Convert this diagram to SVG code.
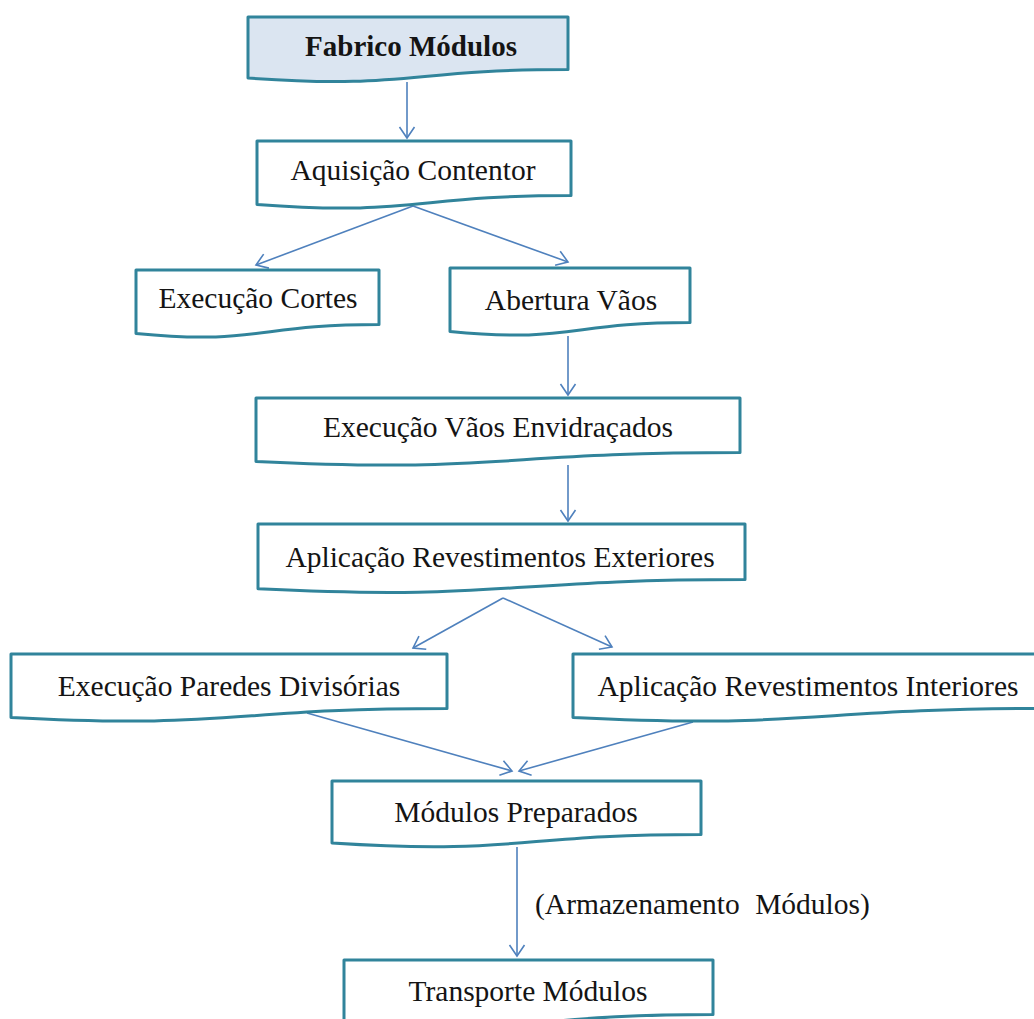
<svg xmlns="http://www.w3.org/2000/svg" width="1034" height="1019" viewBox="0 0 1034 1019">
  <defs>
    <style>
      .doc { fill: #ffffff; stroke: #31849b; stroke-width: 3; stroke-linejoin: round; }
      .doc.head { fill: #dbe5f1; }
      .lbl { font-family: "Liberation Serif", "Times New Roman", serif; font-size: 29.5px; fill: #141414; text-anchor: middle; }
      .lbl.bold { font-weight: bold; font-size: 29px; }
      .free { font-family: "Liberation Serif", "Times New Roman", serif; font-size: 29.5px; fill: #141414; word-spacing: 8px; }
      .link { stroke: #4f81bd; stroke-width: 1.6; fill: none; marker-end: url(#vhead); }
    </style>
    <marker id="vhead" markerUnits="userSpaceOnUse" viewBox="-12 -9 14 18" refX="0" refY="0" markerWidth="14" markerHeight="18" orient="auto">
      <path d="M-11,-7.5 L0,0 L-11,7.5" fill="none" stroke="#4f81bd" stroke-width="1.6"/>
    </marker>
  </defs>

  <!-- connectors -->
  <g id="connectors">
    <line class="link" x1="407" y1="82" x2="407" y2="138"/>
    <line class="link" x1="413" y1="206" x2="256" y2="265"/>
    <line class="link" x1="413" y1="206" x2="568" y2="262"/>
    <line class="link" x1="568" y1="336" x2="568" y2="395"/>
    <line class="link" x1="568" y1="465" x2="568" y2="521"/>
    <line class="link" x1="503" y1="598" x2="413" y2="648"/>
    <line class="link" x1="503" y1="598" x2="612" y2="647"/>
    <line class="link" x1="307" y1="713" x2="512" y2="771"/>
    <line class="link" x1="693" y1="722" x2="519" y2="771"/>
    <line class="link" x1="517" y1="847" x2="517" y2="956"/>
    <text class="free" x="535" y="914">(Armazenamento Módulos)</text>
  </g>

  <!-- document-shaped nodes: straight top, wavy bottom -->
  <g id="n-fabrico">
    <path class="doc head" d="M248,17 H568 V69.4 C408,69.4 408,89.4 248,78 Z"/>
    <text class="lbl bold" x="411" y="56">Fabrico Módulos</text>
  </g>

  <g id="n-aquisicao">
    <path class="doc" d="M257,141 H571 V195.5 C414,195.5 414,216.3 257,204.5 Z"/>
    <text class="lbl" x="413" y="180">Aquisição Contentor</text>
  </g>

  <g id="n-cortes">
    <path class="doc" d="M136,270 H379 V324.5 C257.5,324.5 257.5,345.3 136,333.5 Z"/>
    <text class="lbl" x="258" y="308">Execução Cortes</text>
  </g>

  <g id="n-abertura">
    <path class="doc" d="M450,268 H690 V322.5 C570,322.5 570,343.3 450,331.5 Z"/>
    <text class="lbl" x="571" y="310">Abertura Vãos</text>
  </g>

  <g id="n-envidracados">
    <path class="doc" d="M256,398 H740 V452.5 C498,452.5 498,473.3 256,461.5 Z"/>
    <text class="lbl" x="498" y="437">Execução Vãos Envidraçados</text>
  </g>

  <g id="n-exteriores">
    <path class="doc" d="M258,524 H745 V579.5 C501.5,579.5 501.5,600.7 258,588.8 Z"/>
    <text class="lbl" x="500" y="567">Aplicação Revestimentos Exteriores</text>
  </g>

  <g id="n-paredes">
    <path class="doc" d="M11,654 H447 V708.5 C229,708.5 229,729.3 11,717.5 Z"/>
    <text class="lbl" x="229" y="696">Execução Paredes Divisórias</text>
  </g>

  <g id="n-interiores">
    <path class="doc" d="M573,654 H1045 V708.5 C809,708.5 809,729.3 573,717.5 Z"/>
    <text class="lbl" x="808" y="696">Aplicação Revestimentos Interiores</text>
  </g>

  <g id="n-preparados">
    <path class="doc" d="M332,781 H701 V834.5 C516.5,834.5 516.5,854.9 332,843 Z"/>
    <text class="lbl" x="516" y="822">Módulos Preparados</text>
  </g>

  <g id="n-transporte">
    <path class="doc" d="M344,960 H713 V1014.5 C528.5,1014.5 528.5,1035.3 344,1023.5 Z"/>
    <text class="lbl" x="528" y="1001">Transporte Módulos</text>
  </g>
</svg>
